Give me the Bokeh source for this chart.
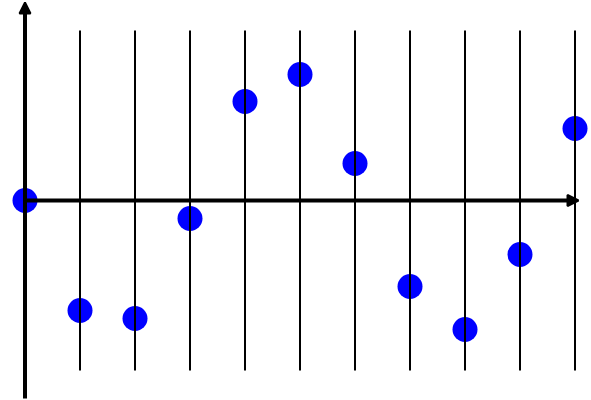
from bokeh.plotting import figure
from bokeh.models import Range1d, Arrow, NormalHead, ColumnDataSource
from bokeh.embed import file_html
from bokeh.resources import INLINE

# data
xs = [0, 1, 2, 3, 4, 5, 6, 7, 8, 9, 10]
ys = [0.0, -1.10, -1.18, -0.18, 0.99, 1.26, 0.37, -0.86, -1.29, -0.54, 0.72]
grid_x = [1, 2, 3, 4, 5, 6, 7, 8, 9, 10]
grid_top = 1.70
grid_bottom = -1.70

W, H = 591, 400
px_per_x = 55.0
x0_px = 24.5
p = figure(width=W, height=H, output_backend="svg", toolbar_location=None,
           min_border=0, outline_line_color=None,
           x_range=Range1d(-x0_px / px_per_x, (W - x0_px) / px_per_x),
           y_range=Range1d(-2.0, 2.0))
p.axis.visible = False
p.grid.visible = False
p.background_fill_color = "white"
p.border_fill_color = "white"

src = ColumnDataSource(dict(x=xs, y=ys))
p.scatter("x", "y", source=src, size=25, fill_color="#0000ff", line_color=None)

p.segment(x0=grid_x, y0=[grid_bottom] * len(grid_x), x1=grid_x, y1=[grid_top] * len(grid_x),
          line_color="black", line_width=2)

# vertical axis
p.add_layout(Arrow(x_start=0, y_start=-1.98, x_end=0, y_end=1.98,
                   line_width=4, line_color="black",
                   end=NormalHead(size=11, fill_color="black", line_color="black", line_width=2)))
# horizontal axis
p.add_layout(Arrow(x_start=0, y_start=0, x_end=(578 - 24.5) / px_per_x, y_end=0,
                   line_width=4, line_color="black",
                   end=NormalHead(size=11, fill_color="black", line_color="black", line_width=2)))

open("out.html", "w").write(file_html(p, INLINE))
